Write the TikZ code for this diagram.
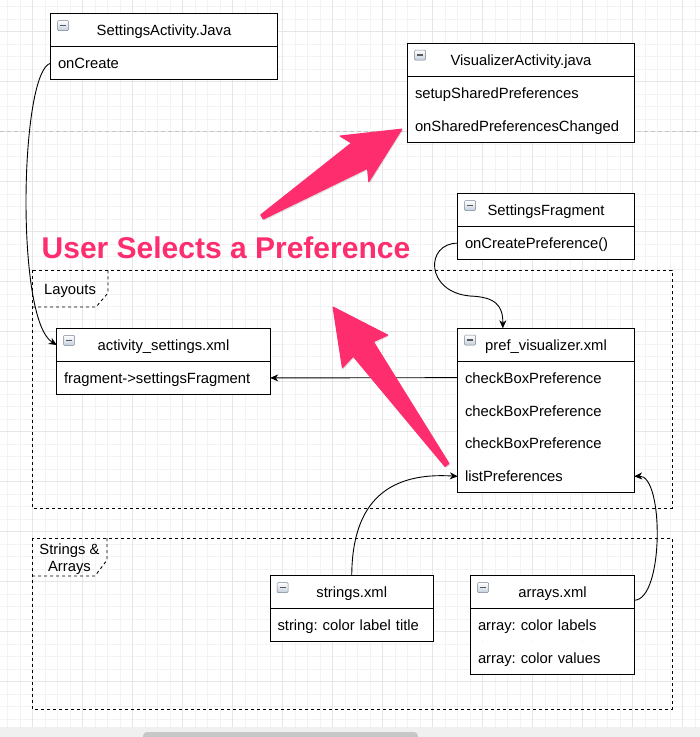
\documentclass[tikz,border=0pt]{standalone}
\usepackage{fontspec}
\setmainfont{Liberation Sans}
\usepackage{tikz}
\usetikzlibrary{arrows.meta,positioning}

\definecolor{skitchpink}{RGB}{253,45,110}
\definecolor{gridminor}{RGB}{243,243,243}
\definecolor{gridmajor}{RGB}{230,230,230}
\definecolor{pagebreak}{RGB}{196,196,196}
\definecolor{iconfill}{RGB}{196,207,220}
\definecolor{iconedge}{RGB}{118,132,148}

\begin{document}
\begin{tikzpicture}[
    x=1pt,y=-1pt,>={Stealth[length=8pt,width=7pt,inset=2.5pt]},
    class head/.style={fill=white,minimum width=#1,
      minimum height=32.5pt,inner xsep=7pt,inner ysep=0pt,
      text height=13pt,text depth=2pt,
      font=\fontsize{14.8}{17}\selectfont\frenchspacing},
    class row/.style={fill=white,text width=#1,
      align=left,minimum height=32.5pt,inner xsep=7pt,inner ysep=0pt,
      text height=13pt,text depth=2pt,
      font=\fontsize{14.8}{17}\selectfont\frenchspacing},
    class frame/.style={line width=0.9pt},
    toggle icon/.style={draw=iconedge,line width=0.5pt,rounded corners=1pt,
      top color=white,bottom color=iconfill,minimum width=11pt,
      minimum height=10pt,inner sep=0pt,anchor=north west,
      path picture={\draw[line width=1.3pt,black!65]
        ([xshift=2.5pt]path picture bounding box.west) --
        ([xshift=-2.5pt]path picture bounding box.east);}},
    group frame/.style={dash pattern=on 3pt off 3pt,line width=0.9pt},
    group label/.style={align=center,inner sep=0pt,
      font=\fontsize{14.8}{17}\selectfont},
    link arrow/.style={->,line width=0.9pt},
    title text/.style={anchor=base,inner sep=0pt,text=skitchpink,
      font=\fontsize{30}{30}\selectfont\bfseries},
    note arrow/.style={fill=skitchpink,draw=skitchpink,line width=1pt,
      line join=round}
  ]
    \useasboundingbox (0,0) rectangle (700,737);
    \clip (0,0) rectangle (700,737);
    \fill[white] (0,0) rectangle (700,737);

    % editor grid
    \foreach \gx in {7.5,20,...,700}
      \draw[gridminor,line width=0.6pt] (\gx,0) -- (\gx,727);
    \foreach \gy in {6.5,19,...,727}
      \draw[gridminor,line width=0.6pt] (0,\gy) -- (700,\gy);
    \foreach \gx in {32.5,82.5,...,700}
      \draw[gridmajor,line width=0.7pt] (\gx,0) -- (\gx,727);
    \foreach \gy in {31.5,81.5,...,727}
      \draw[gridmajor,line width=0.7pt] (0,\gy) -- (700,\gy);
    \draw[pagebreak,dash pattern=on 4pt off 3pt,line width=0.8pt]
      (0,131.5) -- (700,131.5);
    \fill[black!6] (0,727) rectangle (700,737);
    \fill[black!22,rounded corners=4pt] (143,732) rectangle (418,745);

    % groups
    \draw[group frame] (32,270) rectangle (672,508);
    \draw[group frame] (32,307) -- (96,307) -- (108,293) -- (108,270);
    \node[group label] (layouts) at (70,291) {Layouts};
    \draw[group frame] (32,538) rectangle (672,709);
    \draw[group frame] (32,576) -- (95,576) -- (107,560) -- (107,538);
    \node[group label] (strings-arrays) at (69.5,559.5) {Strings \&\\Arrays};

    % classes
    \node[class head=226pt] (sa) at (164,30.25) {SettingsActivity.Java};
    \node[class row=212pt,below=0pt of sa] (sa1) {onCreate};

    \node[class head=226pt] (va) at (521,59.75) {VisualizerActivity.java};
    \node[class row=212pt,below=0pt of va] (va1) {setupSharedPreferences};
    \node[class row=212pt,below=0pt of va1] (va2) {onSharedPreferencesChanged};

    \node[class head=176pt] (sf) at (546,210.25) {SettingsFragment};
    \node[class row=162pt,below=0pt of sf] (sf1) {onCreatePreference()};

    \node[class head=176pt] (pv) at (546,344.75) {pref\_visualizer.xml};
    \node[class row=162pt,below=0pt of pv] (pv1) {checkBoxPreference};
    \node[class row=162pt,below=0pt of pv1] (pv2) {checkBoxPreference};
    \node[class row=162pt,below=0pt of pv2] (pv3) {checkBoxPreference};
    \node[class row=162pt,below=0pt of pv3] (pv4) {listPreferences};

    \node[class head=213pt] (as) at (163.5,345) {activity\_settings.xml};
    \node[class row=199pt,below=0pt of as] (as1) {fragment->settingsFragment};

    \node[class head=162.5pt] (st) at (351.75,592.25) {strings.xml};
    \node[class row=148.5pt,below=0pt of st] (st1) {string: color label title};

    \node[class head=163pt] (ar) at (552.5,592.25) {arrays.xml};
    \node[class row=149pt,below=0pt of ar] (ar1) {array: color labels};
    \node[class row=149pt,below=0pt of ar1] (ar2) {array: color values};

    \foreach \c/\r in {sa/sa1,va/va2,sf/sf1,pv/pv4,as/as1,st/st1,ar/ar2} {
      \draw[class frame] (\c.north west) rectangle (\r.south east);
      \draw[class frame] (\c.south west) -- (\c.south east);
      \node[toggle icon] (\c-icon) at ([shift={(6.5pt,-6.5pt)}]\c.north west) {};
    }

    % links
    \draw[link arrow] (sa1.west) .. controls (20,70) and (15,320) .. (as.west);
    \draw[link arrow] (pv1.west) -- (as1.east);
    \draw[link arrow] (sf1.west) .. controls (425,243) and (425,292) .. (470,296)
      .. controls (495,297) and (503,305) .. ([xshift=45pt]pv.north west);
    \draw[link arrow] (st.north) .. controls (352,500) and (390,472) .. (pv4.west);
    \draw[link arrow] ([yshift=-8pt]ar.east) .. controls (664,600) and (664,475)
      .. (pv4.east);

    % annotation
    \node[title text] (title) at (226,258) {User Selects a Preference};

    \fill[black,opacity=0.12,shift={(1pt,-1.5pt)}] (263.3,219.1) -- (367.5,168.4)
      -- (368.8,181.8) -- (401.9,129.1) -- (340,136) -- (351.5,143)
      -- (260.7,214.9) -- cycle;
    \filldraw[note arrow] (263.3,219.1) -- (367.5,168.4) -- (368.8,181.8)
      -- (401.9,129.1) -- (340,136) -- (351.5,143) -- (260.7,214.9) -- cycle;
    \fill[black,opacity=0.12,shift={(1pt,-1.5pt)}] (449,463.5) -- (373.4,341.7)
      -- (387.8,335.1) -- (333,307) -- (342.4,367.9) -- (353.2,356.3)
      -- (445,466.5) -- cycle;
    \filldraw[note arrow] (449,463.5) -- (373.4,341.7) -- (387.8,335.1)
      -- (333,307) -- (342.4,367.9) -- (353.2,356.3) -- (445,466.5) -- cycle;
  \end{tikzpicture}
\end{document}
